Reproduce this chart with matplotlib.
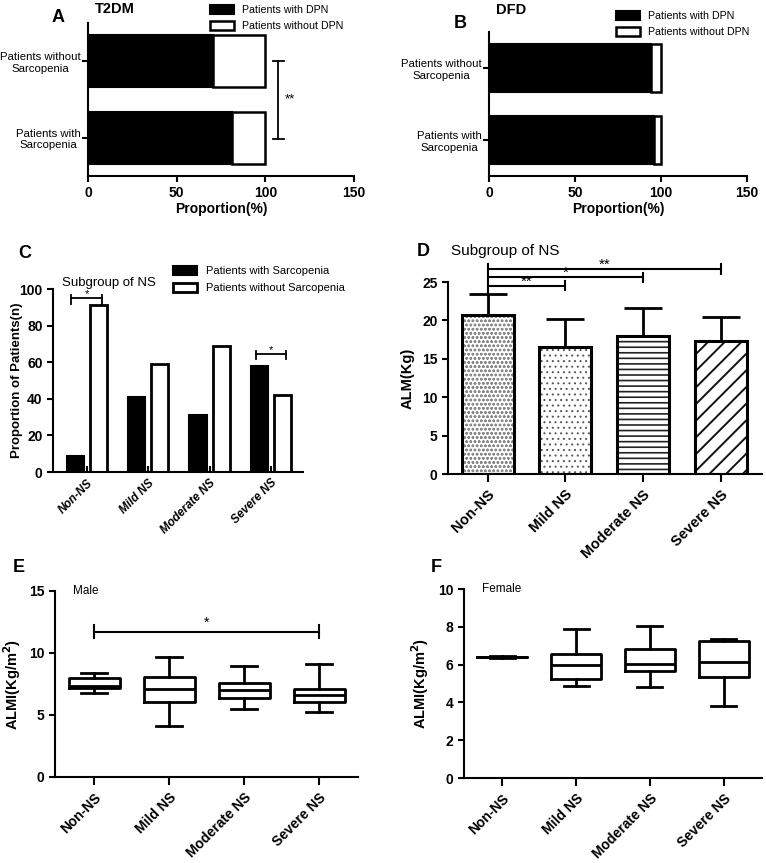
import matplotlib
matplotlib.use('Agg')
import matplotlib.pyplot as plt
import numpy as np

plt.rcParams['font.family'] = ['Liberation Sans', 'DejaVu Sans']
plt.rcParams['font.weight'] = 'bold'
plt.rcParams['hatch.linewidth'] = 0.7

# Panels A / B: proportion of DPN by sarcopenia status
sarc_groups = ['Patients with\nSarcopenia', 'Patients without\nSarcopenia']
t2dm_dpn = [81, 70.5]
dfd_dpn = [96, 94]

# Panel C: sarcopenia by NS subgroup
ns_groups = ['Non-NS', 'Mild NS', 'Moderate NS', 'Severe NS']
with_sarc = [9, 41, 31, 58]
without_sarc = [91, 59, 69, 42]

# Panel D: ALM mean and SD
alm_mean = [20.75, 16.6, 18.0, 17.3]
alm_sd = [2.65, 3.6, 3.6, 3.2]

# Panel E: male ALMI box stats
male_whislo = [6.75, 4.11, 5.48, 5.27]
male_q1 = [7.15, 6.02, 6.40, 6.02]
male_med = [7.3, 7.07, 7.02, 6.64]
male_q3 = [8.0, 8.04, 7.60, 7.07]
male_whishi = [8.41, 9.71, 8.95, 9.09]

# Panel F: female ALMI box stats
female_whislo = [6.36, 4.89, 4.80, 3.80]
female_q1 = [6.38, 5.24, 5.66, 5.33]
female_med = [6.40, 5.98, 6.03, 6.15]
female_q3 = [6.42, 6.54, 6.83, 7.26]
female_whishi = [6.44, 7.87, 8.04, 7.35]

W, H = 766, 863
fig = plt.figure(figsize=(W / 100, H / 100), dpi=100)


def px_ax(l, t, r, b):
    return [l / W, 1 - b / H, (r - l) / W, (b - t) / H]


def ftext(x, y, s, **kw):
    kw.setdefault('ha', 'center')
    kw.setdefault('va', 'center')
    kw.setdefault('fontweight', 'bold')
    fig.text(x / W, 1 - y / H, s, **kw)


def style(ax):
    for s in ['top', 'right']:
        ax.spines[s].set_visible(False)
    for s in ['left', 'bottom']:
        ax.spines[s].set_linewidth(1.5)
    ax.tick_params(width=1.5, length=4, labelsize=10)
    for lab in ax.get_xticklabels() + ax.get_yticklabels():
        lab.set_fontweight('bold')


def ylabel_at(ax, text, right_px, left_px, width_px, size):
    # right_px: where the right edge of the rotated label sits
    ax.set_ylabel(text, fontsize=size, fontweight='bold')
    ax.yaxis.set_label_coords((right_px - left_px) / width_px, 0.5)


# ---- A and B ----
def dpn_panel(rect, dpn, leg_xy):
    ax = fig.add_axes(px_ax(*rect))
    y = np.arange(len(sarc_groups))
    ax.barh(y, dpn, height=0.68, color='black', edgecolor='black', lw=1.5,
            label='Patients with DPN')
    ax.barh(y, [100 - v for v in dpn], left=dpn, height=0.68, color='white',
            edgecolor='black', lw=1.8, label='Patients without DPN')
    ax.set_xlim(0, 150)
    ax.set_ylim(-0.5, 1.5)
    ax.set_xticks([0, 50, 100, 150])
    ax.set_yticks(y)
    ax.set_yticklabels(sarc_groups)
    style(ax)
    for lab in ax.get_yticklabels():
        lab.set_multialignment('center')
        lab.set_fontweight('normal')
        lab.set_fontsize(8.2)
    ax.tick_params(axis='y', pad=1.5)
    ax.set_xlabel('Proportion(%)', fontsize=10, fontweight='bold', labelpad=1)
    ax.legend(loc='upper left', bbox_to_anchor=(leg_xy[0] / W, 1 - leg_xy[1] / H),
              bbox_transform=fig.transFigure, frameon=False,
              prop={'weight': 'normal', 'size': 7.7}, handlelength=2.2,
              handleheight=0.9, labelspacing=0.55, borderpad=0, borderaxespad=0)
    return ax


axA = dpn_panel((88, 23, 354, 176), t2dm_dpn, (210, 5))
axA.plot([107.3, 107.3], [-0.02, 1.0], color='black', lw=1.3, clip_on=False)
axA.plot([104.3, 110.3], [-0.02, -0.02], color='black', lw=1.3, clip_on=False)
axA.plot([104.3, 110.3], [1.0, 1.0], color='black', lw=1.3, clip_on=False)
axA.text(114, 0.5, '**', fontsize=9.5, fontweight='normal', ha='center', va='center')
ftext(58, 18, 'A', fontsize=13)
ftext(115, 9, 'T2DM', fontsize=10.5)

axB = dpn_panel((489, 32, 747, 176), dfd_dpn, (616, 11))
ftext(460, 23, 'B', fontsize=13)
ftext(511, 10, 'DFD', fontsize=10.5)

# ---- C ----
axC = fig.add_axes(px_ax(53, 289, 303, 472))
x = np.arange(len(ns_groups))
axC.bar(x - 0.19, with_sarc, 0.28, color='black', edgecolor='black', lw=1.5,
        label='Patients with Sarcopenia')
axC.bar(x + 0.19, without_sarc, 0.28, color='white', edgecolor='black', lw=2,
        label='Patients without Sarcopenia')
axC.set_xlim(-0.55, 3.52)
axC.set_ylim(0, 100)
axC.set_yticks([0, 20, 40, 60, 80, 100])
axC.set_xticks(x)
axC.set_xticklabels(ns_groups, rotation=45, ha='right', rotation_mode='anchor')
style(axC)
for lab in axC.get_xticklabels():
    lab.set_fontsize(8.5)
    lab.set_fontstyle('italic')
axC.tick_params(axis='x', direction='in', length=4)
ylabel_at(axC, 'Proportion of Patients(n)', 23, 53, 250, 9.5)
axC.legend(loc='upper left', bbox_to_anchor=(173 / W, 1 - 266 / H),
           bbox_transform=fig.transFigure, frameon=False,
           prop={'weight': 'normal', 'size': 8}, handlelength=2.2,
           handleheight=0.9, labelspacing=0.55, borderpad=0, borderaxespad=0)
for gx, yy in [(0, 95), (3, 64.5)]:
    axC.plot([gx - 0.25, gx + 0.25], [yy, yy], color='black', lw=1.3, clip_on=False)
    for ex in (gx - 0.25, gx + 0.25):
        axC.plot([ex, ex], [yy - 3, yy + 1.5], color='black', lw=1.3, clip_on=False)
    axC.text(gx, yy + 2.2, '*', fontsize=8, fontweight='normal', ha='center', va='center')
axC.text(-0.41, 103.2, 'Subgroup of NS', fontsize=9.5, fontweight='normal',
         ha='left', va='center')
ftext(25, 253, 'C', fontsize=13)

# ---- D ----
axD = fig.add_axes(px_ax(448, 282, 762, 474))
hatches = ['oooo', '...', '---', '//']
hcolors = ['#8a8a8a', '#555555', '#222222', '#111111']
hlws = [0.7, 0.7, 1.2, 1.4]
bars = axD.bar(x, alm_mean, 0.67, color='white', lw=0, zorder=2)
for p, h, c, hl in zip(bars, hatches, hcolors, hlws):
    p.set_hatch(h)
    p.set_edgecolor(c)
    if hasattr(p, 'set_hatch_linewidth'):
        p.set_hatch_linewidth(hl)
axD.bar(x, alm_mean, 0.67, fill=False, edgecolor='black', lw=2.2, zorder=3)
axD.errorbar(x, alm_mean, yerr=[np.zeros(len(x)), alm_sd], fmt='none',
             ecolor='black', elinewidth=2, capsize=14, capthick=2, zorder=1)
axD.set_xlim(-0.51, 3.53)
axD.set_ylim(0, 25)
axD.set_yticks([0, 5, 10, 15, 20, 25])
axD.set_xticks(x)
axD.set_xticklabels(ns_groups, rotation=45, ha='right', rotation_mode='anchor')
style(axD)
for lab in axD.get_xticklabels():
    lab.set_fontsize(10.5)
axD.tick_params(axis='x', length=6)
ylabel_at(axD, 'ALM(Kg)', 415, 448, 314, 10.5)
sig_d = [(1, 24.5, '**'), (2, 25.6, '*'), (3, 26.7, '**')]
for gx, yy, s in sig_d:
    axD.plot([0, gx], [yy, yy], color='black', lw=1.5, clip_on=False)
    axD.plot([gx, gx], [yy - 0.6, yy + 0.6], color='black', lw=1.5, clip_on=False)
    axD.text(gx / 2, yy + 0.55, s, fontsize=11, fontweight='normal',
             ha='center', va='center')
axD.plot([0, 0], [23.4, 27.3], color='black', lw=1.5, clip_on=False)
ftext(451, 251, 'Subgroup of NS', fontsize=11, fontweight='normal', ha='left')
ftext(423, 251, 'D', fontsize=13)


# ---- E and F ----
def box_panel(rect, lo, q1, med, q3, hi, ylim, yticks, note, ylab_x):
    ax = fig.add_axes(px_ax(*rect))
    stats = [dict(whislo=a, q1=b, med=c, q3=d, whishi=e, label=n)
             for a, b, c, d, e, n in zip(lo, q1, med, q3, hi, ns_groups)]
    lw = 2
    ax.bxp(stats, positions=x, widths=0.68, showfliers=False,
           boxprops=dict(lw=lw, color='black'),
           whiskerprops=dict(lw=lw, color='black'),
           capprops=dict(lw=lw, color='black'),
           medianprops=dict(lw=lw, color='black'))
    ax.set_xlim(-0.52, 3.52)
    ax.set_ylim(*ylim)
    ax.set_yticks(yticks)
    ax.set_xticks(x)
    ax.set_xticklabels(ns_groups, rotation=45, ha='right', rotation_mode='anchor')
    style(ax)
    ax.tick_params(axis='x', length=6)
    ylabel_at(ax, r'ALMI(Kg/m$^\mathbf{2}$)', ylab_x, rect[0], rect[2] - rect[0], 10.5)
    ax.text(-0.28, ylim[1], note, fontsize=8.5, fontweight='normal',
            ha='left', va='center')
    return ax


axE = box_panel((55, 591, 358, 777), male_whislo, male_q1, male_med, male_q3,
                male_whishi, (0, 15), [0, 5, 10, 15], 'Male', 23)
axE.plot([0, 3], [11.73, 11.73], color='black', lw=1.5)
for ex in (0, 3):
    axE.plot([ex, ex], [11.2, 12.26], color='black', lw=1.5)
axE.text(1.5, 11.9, '*', fontsize=10, fontweight='normal', ha='center', va='bottom')
ftext(19, 567, 'E', fontsize=13)

axF = box_panel((464, 589, 762, 778), female_whislo, female_q1, female_med,
                female_q3, female_whishi, (0, 10), [0, 2, 4, 6, 8, 10], 'Female', 431)
ftext(436, 567, 'F', fontsize=13)

fig.savefig('out.png', dpi=100)
